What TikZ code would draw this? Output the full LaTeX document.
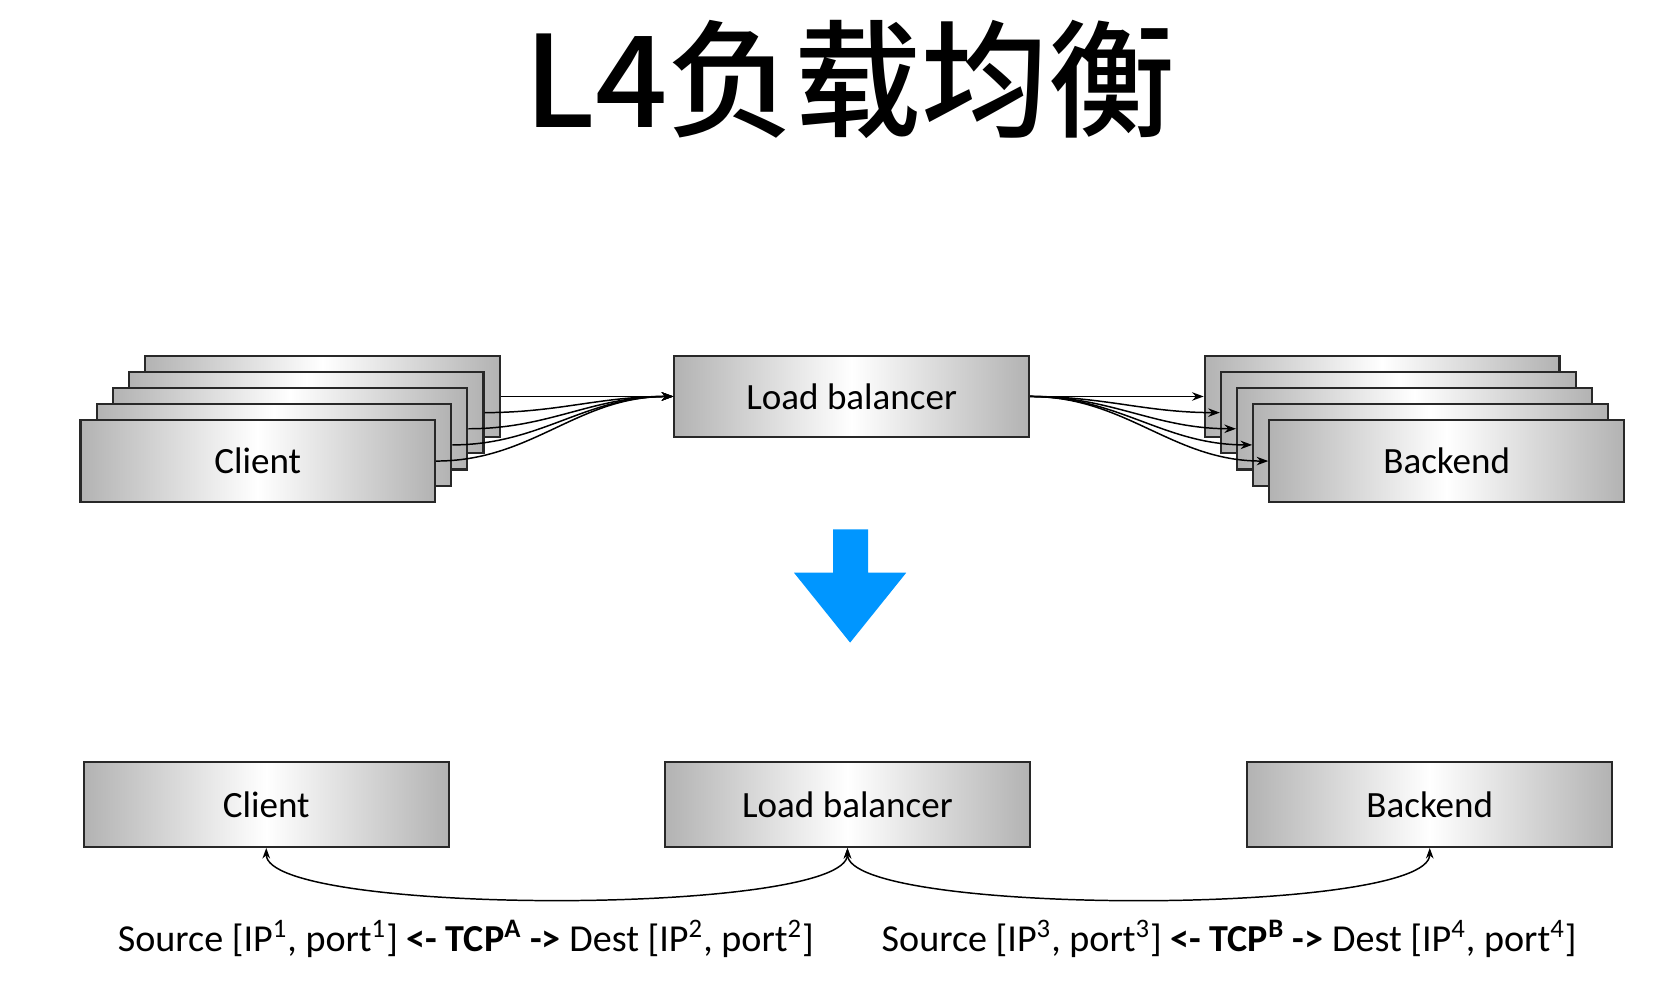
\documentclass[tikz,border=0pt]{standalone}
\usepackage{fontspec}
\setmainfont{Carlito}
\newfontfamily\cjk{Noto Sans CJK SC}[BoldFont={* Medium}]
\usepackage{tikz}
\usetikzlibrary{arrows.meta}
\definecolor{arrowblue}{RGB}{0,150,255}
\definecolor{boxedge}{RGB}{40,40,40}

\tikzset{
  box/.style={draw=boxedge,line width=1pt,inner sep=0pt,
    minimum width=167.5pt,minimum height=38.5pt,
    left color=gray!60,right color=gray!60,middle color=white,
    font=\fontsize{17.5}{20}\selectfont},
  wide/.style={box,minimum width=172.5pt,minimum height=40pt},
  link/.style={line width=0.7pt,-{Stealth[length=5.5pt,width=4pt]}},
  both/.style={line width=0.7pt,{Stealth[length=5pt,width=3.6pt]}-{Stealth[length=5pt,width=3.6pt]}}
}

\begin{document}
\begin{tikzpicture}[x=0.5pt,y=-0.5pt]
\useasboundingbox (0,0) rectangle (1568,929.5);

% title
\node (title) at (803,75) {\cjk\bfseries\fontsize{60}{64}\selectfont L4负载均衡};

% top row: stacked clients and backends
\foreach \i in {4,3,2,1} {
  \node [box] (c\i) at (243.5+15.25*\i,435.5-15.25*\i) {};
}
\node [box] (c0) at (243.5,435.5) {Client};

\node [box] (lb) at (804.5,374.5) {Load balancer};

\foreach \i in {4,3,2,1} {
  \node [box] (b\i) at (1366.5-15.25*\i,435.5-15.25*\i) {};
}
\node [box] (b0) at (1366.5,435.5) {Backend};

\foreach \i in {0,...,4} {
  \draw [link] (c\i.east) to[out=0,in=180] (lb.west);
  \draw [link] (lb.east) to[out=0,in=180] (b\i.west);
}

% blue arrow
\fill [arrowblue] (787,500) -- (820,500) -- (820,541) -- (856,541)
  -- (803,607) -- (750,541) -- (787,541) -- cycle;

% bottom row
\node [wide] (cl) at (251.5,760) {Client};
\node [wide] (lb2) at (800.5,760) {Load balancer};
\node [wide] (be) at (1350.5,760) {Backend};

\draw [both] (cl.south) to[out=-90,in=-90,looseness=0.3] (lb2.south);
\draw [both] (lb2.south) to[out=-90,in=-90,looseness=0.3] (be.south);

\node (tcpa) at (440,887) {\fontsize{18}{20}\selectfont
  Source [IP\textsuperscript{1}, port\textsuperscript{1}] \textbf{<- TCP\textsuperscript{A} ->} Dest [IP\textsuperscript{2}, port\textsuperscript{2}]};
\node (tcpb) at (1161,887) {\fontsize{18}{20}\selectfont
  Source [IP\textsuperscript{3}, port\textsuperscript{3}] \textbf{<- TCP\textsuperscript{B} ->} Dest [IP\textsuperscript{4}, port\textsuperscript{4}]};

\end{tikzpicture}
\end{document}
